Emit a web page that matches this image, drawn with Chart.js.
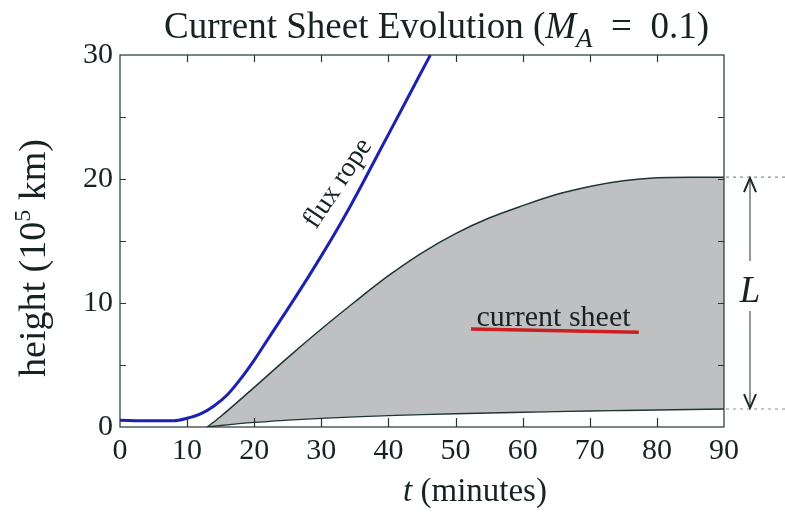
<!DOCTYPE html>
<html>
<head>
<meta charset="utf-8">
<script src="https://cdn.jsdelivr.net/npm/chart.js@4.4.1/dist/chart.umd.min.js"></script>
<style>
  html, body { margin: 0; padding: 0; background: #ffffff; }
  canvas { display: block; }
</style>
</head>
<body>
<canvas id="chart" width="785" height="523"></canvas>
<script>
// Flux rope height (10^5 km) versus time (minutes)
const fluxTime   = [0, 4, 8, 10, 12, 14, 16, 18, 20, 22, 24, 26, 28, 30, 32, 34, 36, 38, 40, 42, 44, 46, 46.25];
const fluxHeight = [0.55, 0.5, 0.5, 0.7, 1.05, 1.7, 2.6, 3.9, 5.4, 7.05, 8.7, 10.35, 12.05, 13.8, 15.6, 17.5, 19.5, 21.55, 23.6, 25.65, 27.7, 29.75, 30];

// Current sheet: upper and lower tips versus time
const sheetTime   = [13, 15, 20, 25, 30, 35, 40, 45, 50, 55, 60, 65, 70, 75, 80, 85, 90];
const sheetTop    = [0, 0.85, 3.2, 5.6, 7.9, 10.1, 12.2, 14.05, 15.6, 16.85, 17.85, 18.75, 19.4, 19.85, 20.1, 20.15, 20.15];
const sheetBottom = [0, 0.12, 0.37, 0.55, 0.7, 0.82, 0.92, 1.0, 1.07, 1.13, 1.19, 1.24, 1.29, 1.33, 1.37, 1.41, 1.45];

// Red underline under the "current sheet" label
const underlineTime   = [52.3, 77.3];
const underlineHeight = [7.9, 7.65];

// Axis ticks
const xTicks      = [0, 10, 20, 30, 40, 50, 60, 70, 80, 90];
const yTicks      = [0, 10, 20, 30];
const yMinorTicks = [5, 10, 15, 20, 25];

const SERIF = '"Liberation Serif", "DejaVu Serif", serif';
const INK = '#172222';

const toPoints = (xs, ys) => xs.map((v, i) => ({ x: v, y: ys[i] }));

// Draw a run of text pieces, each with its own font and vertical shift
function drawRuns(ctx, runs, x, y) {
  let cx = x;
  for (const r of runs) {
    ctx.font = r.font;
    ctx.fillText(r.text, cx, y + (r.dy || 0));
    cx += ctx.measureText(r.text).width;
  }
  return cx - x;
}
function runsWidth(ctx, runs) {
  let w = 0;
  for (const r of runs) { ctx.font = r.font; w += ctx.measureText(r.text).width; }
  return w;
}

const decorations = {
  id: 'decorations',
  afterDatasetsDraw(chart) {
    const { ctx, chartArea: a, scales: { x, y } } = chart;
    ctx.save();

    // plot frame
    ctx.strokeStyle = '#263535';
    ctx.lineWidth = 1.2;
    ctx.strokeRect(a.left, a.top, a.right - a.left, a.bottom - a.top);

    // inward tick marks
    ctx.lineWidth = 1.2;
    ctx.beginPath();
    xTicks.slice(1, -1).forEach(v => {
      const px = Math.round(x.getPixelForValue(v)) + 0.5;
      ctx.moveTo(px, a.bottom); ctx.lineTo(px, a.bottom - 9);
      ctx.moveTo(px, a.top);    ctx.lineTo(px, a.top + 7);
    });
    yMinorTicks.forEach(v => {
      const py = Math.round(y.getPixelForValue(v)) + 0.5;
      ctx.moveTo(a.left, py);  ctx.lineTo(a.left + 6, py);
      ctx.moveTo(a.right, py); ctx.lineTo(a.right - 6, py);
    });
    ctx.stroke();

    // in-plot labels
    ctx.fillStyle = INK;
    ctx.textBaseline = 'alphabetic';

    // "flux rope" along the rising curve
    ctx.save();
    ctx.translate(x.getPixelForValue(33.4), y.getPixelForValue(19.3));
    ctx.rotate(-56.3 * Math.PI / 180);
    ctx.font = '28px ' + SERIF;
    ctx.textAlign = 'center';
    ctx.fillText('flux rope', 0, 0);
    ctx.restore();

    // "current sheet" above its red underline
    ctx.font = '30px ' + SERIF;
    ctx.textAlign = 'center';
    ctx.fillText('current sheet', x.getPixelForValue(64.6), y.getPixelForValue(8.15));

    // length L of the sheet at the last time
    const last = sheetTime.length - 1;
    const yTop = y.getPixelForValue(sheetTop[last]);
    const yBot = y.getPixelForValue(sheetBottom[last]);
    ctx.strokeStyle = '#8a9090';
    ctx.lineWidth = 1.2;
    ctx.setLineDash([3, 4]);
    ctx.beginPath();
    ctx.moveTo(a.right + 2, yTop); ctx.lineTo(chart.width, yTop);
    ctx.moveTo(a.right + 2, yBot); ctx.lineTo(chart.width, yBot);
    ctx.stroke();
    ctx.setLineDash([]);

    const ax = 750;
    const midY = (yTop + yBot) / 2;
    ctx.strokeStyle = '#4a5555';
    ctx.lineWidth = 1.2;
    ctx.beginPath();
    ctx.moveTo(ax, yTop + 2); ctx.lineTo(ax, midY - 32);
    ctx.moveTo(ax, midY + 18); ctx.lineTo(ax, yBot - 2);
    ctx.stroke();

    ctx.strokeStyle = '#1d2727';
    ctx.lineWidth = 2;
    ctx.beginPath();
    ctx.moveTo(ax - 6, yTop + 15); ctx.lineTo(ax, yTop + 1); ctx.lineTo(ax + 6, yTop + 15);
    ctx.moveTo(ax - 6, yBot - 15); ctx.lineTo(ax, yBot - 1); ctx.lineTo(ax + 6, yBot - 15);
    ctx.stroke();

    ctx.font = 'italic 37px ' + SERIF;
    ctx.textAlign = 'center';
    ctx.fillText('L', ax, midY + 9);

    ctx.restore();
  },
  afterDraw(chart) {
    const { ctx } = chart;
    ctx.save();
    ctx.fillStyle = INK;
    ctx.textAlign = 'left';
    ctx.textBaseline = 'alphabetic';

    // chart title
    const titleRuns = [
      { text: 'Current Sheet Evolution (', font: '37px ' + SERIF },
      { text: 'M', font: 'italic 37px ' + SERIF },
      { text: 'A', font: 'italic 27px ' + SERIF, dy: 9 },
      { text: '  =  0.1)', font: '37px ' + SERIF }
    ];
    drawRuns(ctx, titleRuns, 164, 38);

    // x axis title
    const xRuns = [
      { text: 't', font: 'italic 33px ' + SERIF },
      { text: ' (minutes)', font: '33px ' + SERIF }
    ];
    drawRuns(ctx, xRuns, 475 - runsWidth(ctx, xRuns) / 2, 501);

    // y axis title, rotated
    const yRuns = [
      { text: 'height (10', font: '38px ' + SERIF },
      { text: '5', font: '24px ' + SERIF, dy: -15 },
      { text: ' km)', font: '38px ' + SERIF }
    ];
    ctx.translate(45, 258);
    ctx.rotate(-Math.PI / 2);
    drawRuns(ctx, yRuns, -runsWidth(ctx, yRuns) / 2, 0);
    ctx.restore();
  }
};

new Chart(document.getElementById('chart'), {
  type: 'line',
  data: {
    datasets: [
      {
        label: 'flux rope',
        data: toPoints(fluxTime, fluxHeight),
        borderColor: '#1c22b0',
        borderWidth: 3,
        pointRadius: 0,
        cubicInterpolationMode: 'monotone',
        fill: false,
        order: 2
      },
      {
        label: 'current sheet top',
        data: toPoints(sheetTime, sheetTop),
        borderColor: '#1f3535',
        borderWidth: 1.5,
        backgroundColor: '#bfc0c2',
        pointRadius: 0,
        cubicInterpolationMode: 'monotone',
        fill: '+1',
        order: 4
      },
      {
        label: 'current sheet bottom',
        data: toPoints(sheetTime, sheetBottom),
        borderColor: '#1f3535',
        borderWidth: 1.3,
        pointRadius: 0,
        cubicInterpolationMode: 'monotone',
        fill: false,
        order: 3
      },
      {
        label: 'underline',
        data: toPoints(underlineTime, underlineHeight),
        borderColor: '#cc1f1f',
        borderWidth: 3.5,
        pointRadius: 0,
        fill: false,
        order: 1
      }
    ]
  },
  options: {
    responsive: false,
    animation: false,
    devicePixelRatio: 1,
    layout: { padding: { top: 55, right: 61, left: 0, bottom: 0 } },
    plugins: {
      legend: { display: false },
      tooltip: { enabled: false },
      title: { display: false }
    },
    scales: {
      x: {
        type: 'linear',
        min: 0,
        max: 90,
        afterFit: s => { s.height = 96; },
        afterBuildTicks: s => { s.ticks = xTicks.map(v => ({ value: v })); },
        grid: { display: false, drawTicks: false },
        border: { display: false },
        ticks: { color: INK, padding: 6, font: { family: SERIF, size: 30 } }
      },
      y: {
        type: 'linear',
        min: 0,
        max: 30,
        afterFit: s => { s.width = 120; },
        afterBuildTicks: s => { s.ticks = yTicks.map(v => ({ value: v })); },
        grid: { display: false, drawTicks: false },
        border: { display: false },
        ticks: { color: INK, padding: 7, font: { family: SERIF, size: 30 } }
      }
    }
  },
  plugins: [decorations]
});
</script>
</body>
</html>
